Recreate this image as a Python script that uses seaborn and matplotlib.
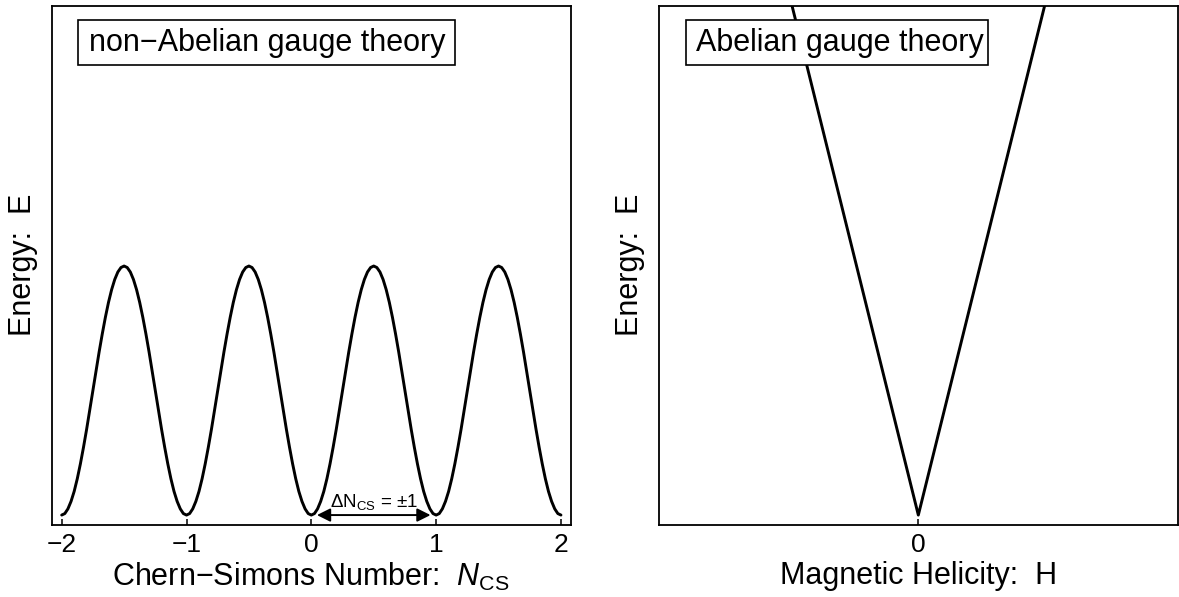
import matplotlib
matplotlib.use('Agg')
import matplotlib.pyplot as plt
import seaborn as sns
import numpy as np
import pandas as pd
from matplotlib.patches import Rectangle

# ---------------- data ----------------
# Left panel: periodic vacuum structure E(N_CS), sampled every 0.025
ncs_step = 0.025
ncs_values = np.round(np.arange(-2.0, 2.0 + ncs_step / 2, ncs_step), 4)
energy_left = [
    0.000, 0.006, 0.025, 0.055, 0.095, 0.146, 0.206, 0.273, 0.345, 0.422,
    0.500, 0.578, 0.655, 0.727, 0.794, 0.854, 0.905, 0.946, 0.976, 0.994,
    1.000, 0.994, 0.976, 0.946, 0.905, 0.854, 0.794, 0.727, 0.655, 0.578,
    0.500, 0.422, 0.345, 0.273, 0.206, 0.146, 0.095, 0.055, 0.025, 0.006,
    0.000, 0.006, 0.025, 0.055, 0.095, 0.146, 0.206, 0.273, 0.345, 0.422,
    0.500, 0.578, 0.655, 0.727, 0.794, 0.854, 0.905, 0.946, 0.976, 0.994,
    1.000, 0.994, 0.976, 0.946, 0.905, 0.854, 0.794, 0.727, 0.655, 0.578,
    0.500, 0.422, 0.345, 0.273, 0.206, 0.146, 0.095, 0.055, 0.025, 0.006,
    0.000, 0.006, 0.025, 0.055, 0.095, 0.146, 0.206, 0.273, 0.345, 0.422,
    0.500, 0.578, 0.655, 0.727, 0.794, 0.854, 0.905, 0.946, 0.976, 0.994,
    1.000, 0.994, 0.976, 0.946, 0.905, 0.854, 0.794, 0.727, 0.655, 0.578,
    0.500, 0.422, 0.345, 0.273, 0.206, 0.146, 0.095, 0.055, 0.025, 0.006,
    0.000, 0.006, 0.025, 0.055, 0.095, 0.146, 0.206, 0.273, 0.345, 0.422,
    0.500, 0.578, 0.655, 0.727, 0.794, 0.854, 0.905, 0.946, 0.976, 0.994,
    1.000, 0.994, 0.976, 0.946, 0.905, 0.854, 0.794, 0.727, 0.655, 0.578,
    0.500, 0.422, 0.345, 0.273, 0.206, 0.146, 0.095, 0.055, 0.025, 0.006,
    0.000,
]
left_ticks = [-2, -1, 0, 1, 2]
left_tick_labels = ['\u22122', '\u22121', '0', '1', '2']

# Right panel: V-shaped E(H)
helicity = [-0.5, 0.0, 0.5]
energy_right = [2.1, 0.0, 2.1]
right_ticks = [0]
right_tick_labels = ['0']

# texts
left_title = 'non\u2212Abelian gauge theory'
right_title = 'Abelian gauge theory'
left_xlabel = 'Chern\u2212Simons Number:  $N_{\\rm CS}$'
right_xlabel = 'Magnetic Helicity:  H'
ylabel = 'Energy:  E'
delta_label = '\u0394N$_{\\rm CS}$ = \u00b11'

# ---------------- style ----------------
sns.set_theme(style='white')
plt.rcParams['font.family'] = ['Liberation Sans', 'DejaVu Sans']
plt.rcParams['mathtext.fontset'] = 'custom'
plt.rcParams['mathtext.rm'] = 'Liberation Sans'
plt.rcParams['mathtext.it'] = 'Liberation Sans:italic'
plt.rcParams['mathtext.bf'] = 'Liberation Sans:bold'
plt.rcParams['text.color'] = 'black'
plt.rcParams['axes.labelcolor'] = 'black'

fig = plt.figure(figsize=(11.79, 5.97), dpi=100)
ax1 = fig.add_axes([0.04385, 0.1214, 0.4402, 0.8685])
ax2 = fig.add_axes([0.5589, 0.1214, 0.4400, 0.8685])

df_left = pd.DataFrame({'N': ncs_values, 'E': energy_left})
df_right = pd.DataFrame({'H': helicity, 'E': energy_right})

sns.lineplot(data=df_left, x='N', y='E', ax=ax1, color='black', lw=2.1,
             estimator=None, sort=False)
sns.lineplot(data=df_right, x='H', y='E', ax=ax2, color='black', lw=2.1,
             estimator=None, sort=False)
for ax in (ax1, ax2):
    for ln in ax.get_lines():
        ln.set_solid_joinstyle('round')

ylim = (-0.038, 2.044)
ax1.set_xlim(-2.08, 2.078)
ax1.set_ylim(*ylim)
ax2.set_xlim(-1, 1)
ax2.set_ylim(*ylim)

ax1.set_xticks(left_ticks)
ax1.set_xticklabels(left_tick_labels)
ax2.set_xticks(right_ticks)
ax2.set_xticklabels(right_tick_labels)

for ax in (ax1, ax2):
    ax.set_yticks([])
    ax.tick_params(axis='x', direction='in', length=4.5, width=1.1, pad=6,
                   labelsize=19, colors='black', bottom=True)
    for sp in ax.spines.values():
        sp.set_color('black')
        sp.set_linewidth(1.3)
        sp.set_visible(True)
    ax.set_ylabel(ylabel, fontsize=22, labelpad=10)

ax1.set_xlabel(left_xlabel, fontsize=22, labelpad=3)
ax2.set_xlabel(right_xlabel, fontsize=22, labelpad=3)

# title boxes
ax1.add_patch(Rectangle((0.0501, 0.8862), 0.7270, 0.0868, transform=ax1.transAxes,
                        fill=True, facecolor='white', edgecolor='black', lw=1.2, zorder=5))
ax1.text(0.0717, 0.9280, left_title, transform=ax1.transAxes, ha='left',
         va='center', fontsize=22, zorder=6)
ax2.add_patch(Rectangle((0.0530, 0.8862), 0.5817, 0.0868, transform=ax2.transAxes,
                        fill=True, facecolor='white', edgecolor='black', lw=1.2, zorder=5))
ax2.text(0.0713, 0.9280, right_title, transform=ax2.transAxes, ha='left',
         va='center', fontsize=22, zorder=6)

# delta arrow
ax1.annotate('', xy=(0.045, 0.0), xytext=(0.955, 0.0),
             arrowprops=dict(arrowstyle='<|-|>', color='black', lw=1.4,
                             shrinkA=0, shrinkB=0, mutation_scale=20))
ax1.text(0.5, 0.032, delta_label, ha='center', va='baseline', fontsize=13.5)

fig.savefig('out.png', dpi=100)
